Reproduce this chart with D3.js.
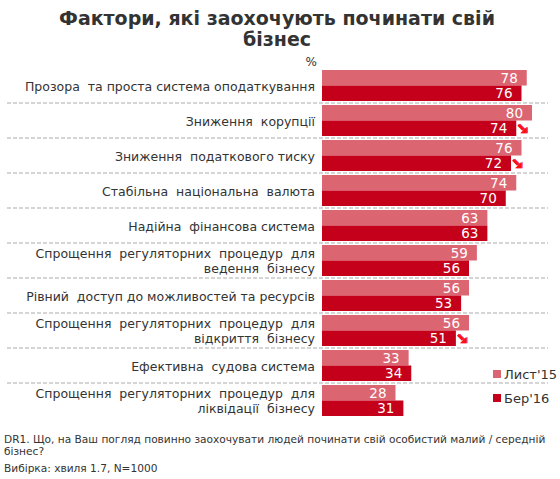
<!DOCTYPE html>
<html>
<head>
<meta charset="utf-8">
<script src="https://cdn.jsdelivr.net/npm/d3@7"></script>
<style>
  body { margin: 0; background: #fff; }
  text { font-family: "DejaVu Sans", Verdana, sans-serif; }
</style>
</head>
<body>
<script>
var w = 560;
var h = 479;

// data
var categories = [
  ["Прозора  та проста система оподаткування"],
  ["Зниження  корупції"],
  ["Зниження  податкового тиску"],
  ["Стабільна  національна  валюта"],
  ["Надійна  фінансова система"],
  ["Спрощення  регуляторних  процедур  для", "ведення  бізнесу"],
  ["Рівний  доступ до можливостей та ресурсів"],
  ["Спрощення  регуляторних  процедур  для", "відкриття  бізнесу"],
  ["Ефективна  судова система"],
  ["Спрощення  регуляторних  процедур  для", "ліквідації  бізнесу"]
];
var seriesNames = ["Лист'15", "Бер'16"];
var lyst15 = [78, 80, 76, 74, 63, 59, 56, 56, 33, 28];
var ber16 = [76, 74, 72, 70, 63, 56, 53, 51, 34, 31];
var declined = [false, true, true, false, false, false, false, true, false, false];
var colors = ["#dc6572", "#c4001a"];

var svg = d3.select("body").append("svg")
  .attr("width", w)
  .attr("height", h);

// title
svg.append("text")
  .attr("x", 277).attr("y", 25)
  .attr("text-anchor", "middle")
  .attr("font-size", "19px").attr("font-weight", "bold")
  .attr("fill", "#333")
  .text("Фактори, які заохочують починати свій");
svg.append("text")
  .attr("x", 277).attr("y", 46)
  .attr("text-anchor", "middle")
  .attr("font-size", "19px").attr("font-weight", "bold")
  .attr("fill", "#333")
  .text("бізнес");

svg.append("text")
  .attr("x", 317).attr("y", 66)
  .attr("text-anchor", "end")
  .attr("font-size", "12px")
  .attr("fill", "#333")
  .text("%");

var x = d3.scaleLinear().domain([0, 100]).range([322, 584.5]);
var y = d3.scaleBand()
  .domain(d3.range(categories.length))
  .range([70, 416])
  .paddingInner(4 / 35)
  .paddingOuter(0);
var ySub = d3.scaleBand()
  .domain([0, 1])
  .range([0, y.bandwidth()]);

var rows = categories.map(function(c, i) {
  return { label: c, vals: [lyst15[i], ber16[i]], down: declined[i], i: i };
});

// dashed separators between groups
svg.selectAll("line.sep")
  .data(rows.slice(0, rows.length - 1))
  .enter().append("line")
  .attr("class", "sep")
  .attr("x1", 7).attr("x2", 548)
  .attr("y1", function(d) { return y(d.i) + y.bandwidth() + y.step() * (4 / 35) / 2; })
  .attr("y2", function(d) { return y(d.i) + y.bandwidth() + y.step() * (4 / 35) / 2; })
  .attr("stroke", "#c8c8c8")
  .attr("stroke-width", 1.3)
  .attr("stroke-dasharray", "4,2");

var g = svg.selectAll("g.row")
  .data(rows)
  .enter().append("g")
  .attr("class", "row")
  .attr("transform", function(d) { return "translate(0," + y(d.i) + ")"; });

// category labels
g.each(function(d) {
  var sel = d3.select(this);
  var lines = d.label;
  lines.forEach(function(t, k) {
    var yy = lines.length == 1 ? y.bandwidth() / 2 + 5 : ySub(k) + ySub.bandwidth() / 2 + 5;
    sel.append("text")
      .attr("x", 315).attr("y", yy)
      .attr("text-anchor", "end")
      .attr("font-size", "12.5px")
      .attr("fill", "#333")
      .style("white-space", "pre")
      .text(t);
  });
});

// bars
g.selectAll("rect")
  .data(function(d) { return d.vals; })
  .enter().append("rect")
  .attr("x", x(0))
  .attr("y", function(v, k) { return ySub(k); })
  .attr("width", function(v) { return x(v) - x(0); })
  .attr("height", ySub.bandwidth())
  .attr("fill", function(v, k) { return colors[k]; });

// value labels
g.selectAll("text.val")
  .data(function(d) { return d.vals; })
  .enter().append("text")
  .attr("class", "val")
  .attr("x", function(v) { return x(v) - 9; })
  .attr("y", function(v, k) { return ySub(k) + ySub.bandwidth() / 2 + 5; })
  .attr("text-anchor", "end")
  .attr("font-size", "13.5px")
  .attr("fill", "#fff")
  .text(function(v) { return v; });

// decline arrows (down-right)
var arrow = g.filter(function(d) { return d.down; })
  .append("g")
  .attr("transform", function(d) {
    return "translate(" + (x(d.vals[1]) + 1.5) + "," + (ySub(1) + ySub.bandwidth() / 2 - 4) + ")";
  });
var shaft = "M0.5,0.5 L5.5,5.5";
var head = "M9,9 L9,2.5 L2.5,9 Z";
arrow.append("path").attr("d", shaft).attr("transform", "translate(1.2,0)")
  .attr("stroke", "#e040a0").attr("stroke-width", 2.6).attr("fill", "none");
arrow.append("path").attr("d", head).attr("transform", "translate(1.2,0)")
  .attr("fill", "#e040a0");
arrow.append("path").attr("d", shaft)
  .attr("stroke", "#ff1010").attr("stroke-width", 2.6).attr("fill", "none");
arrow.append("path").attr("d", head)
  .attr("fill", "#ff1010");

// legend
var legend = svg.selectAll("g.leg")
  .data(seriesNames)
  .enter().append("g")
  .attr("class", "leg")
  .attr("transform", function(d, k) { return "translate(493," + (370 + k * 24) + ")"; });
legend.append("rect")
  .attr("width", 8).attr("height", 8)
  .attr("fill", function(d, k) { return colors[k]; });
legend.append("text")
  .attr("x", 11).attr("y", 8.5)
  .attr("font-size", "13px")
  .attr("fill", "#333")
  .text(function(d) { return d; });

// footnote
var notes = [
  "DR1. Що, на Ваш погляд повинно заохочувати людей починати свій особистий малий / середній",
  "бізнес?",
  "Вибірка: хвиля 1.7, N=1000"
];
svg.selectAll("text.note")
  .data(notes)
  .enter().append("text")
  .attr("class", "note")
  .attr("x", 4)
  .attr("y", function(d, k) { return [443, 455, 472][k]; })
  .attr("font-size", "10.6px")
  .attr("fill", "#333")
  .text(function(d) { return d; });
</script>
</body>
</html>
